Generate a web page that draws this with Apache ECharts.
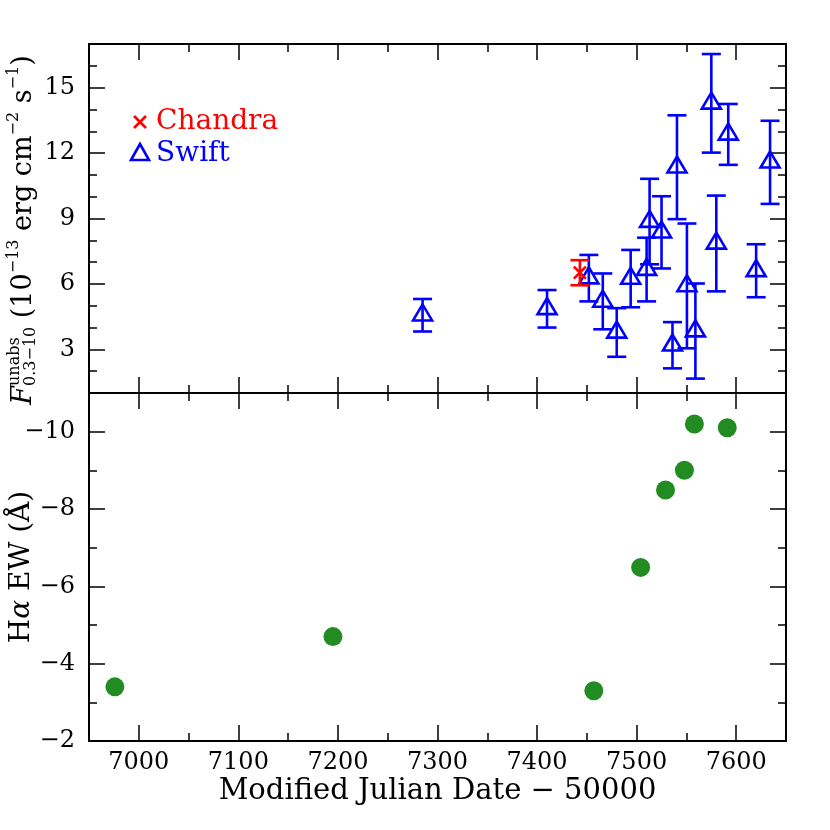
<!DOCTYPE html>
<html>
<head>
<meta charset="utf-8">
<script src="https://cdn.jsdelivr.net/npm/echarts@6/dist/echarts.min.js"></script>
<style>
  html, body { margin: 0; padding: 0; background: #fff; }
  #chart { width: 830px; height: 830px; }
</style>
</head>
<body>
<div id="chart"></div>
<script>
// Swift points: MJD-50000, unabsorbed flux (1e-13 cgs), error bar low/high
const swiftMjd  = [7285, 7410, 7452, 7466, 7480, 7494, 7510, 7513, 7525, 7536, 7540.5, 7550.5, 7559, 7575, 7580, 7592, 7620, 7634];
const swiftFlux = [4.57, 4.86, 6.27, 5.20, 3.78, 6.25, 6.66, 8.86, 8.37, 3.19, 11.35, 5.91, 3.84, 14.28, 7.86, 12.86, 6.60, 11.58];
const swiftLo   = [3.82, 4.00, 5.20, 3.92, 2.66, 4.93, 5.20, 6.90, 6.71, 2.13, 8.97, 3.05, 1.66, 12.02, 5.66, 11.46, 5.39, 9.67];
const swiftHi   = [5.31, 5.72, 7.33, 6.48, 4.89, 7.56, 8.12, 10.82, 10.02, 4.25, 13.73, 8.77, 6.02, 16.54, 10.05, 14.25, 7.82, 13.48];

// Chandra point
const chandraMjd  = [7443];
const chandraFlux = [6.52];
const chandraLo   = [5.94];
const chandraHi   = [7.09];

// H-alpha equivalent width
const haMjd = [6976, 7195, 7457, 7504, 7529, 7548, 7558, 7591];
const haEW  = [-3.40, -4.70, -3.30, -6.49, -8.49, -9.00, -10.20, -10.10];

// axis ticks
const xMajor = [7000, 7100, 7200, 7300, 7400, 7500, 7600];
const fluxMajor = [3, 6, 9, 12, 15];
const ewMajor = [-10, -8, -6, -4, -2];

const FONT = 'DejaVu Serif';
const BLUE = '#0000ff', RED = '#ff0000', GREEN = '#228b22';

const chart = echarts.init(document.getElementById('chart'));

const tickStyle = { color: '#000', width: 1.5 };
const labelStyle = { fontFamily: FONT, fontSize: 24, color: '#000' };

function xAxesFor(grid, withLabels) {
  const base = { type: 'value', gridIndex: grid, min: 6950, max: 7650, interval: 50,
    axisLine: { show: false }, splitLine: { show: false } };
  const list = [];
  ['bottom', 'top'].forEach(pos => {
    list.push(Object.assign({}, base, { position: pos,
      axisTick: { show: true, inside: true, length: 16, lineStyle: tickStyle, customValues: xMajor },
      axisLabel: Object.assign({ show: withLabels && pos === 'bottom', customValues: xMajor, margin: 10,
        formatter: v => String(v) }, labelStyle)
    }));
    list.push(Object.assign({}, base, { position: pos,
      axisTick: { show: true, inside: true, length: 8, lineStyle: tickStyle },
      axisLabel: { show: false }
    }));
  });
  return list;
}

function yAxesFor(grid, min, max, major, inverse, fmt) {
  const base = { type: 'value', gridIndex: grid, min: min, max: max, interval: 1, inverse: inverse,
    axisLine: { show: false }, splitLine: { show: false } };
  const list = [];
  ['left', 'right'].forEach(pos => {
    list.push(Object.assign({}, base, { position: pos,
      axisTick: { show: true, inside: true, length: 16, lineStyle: tickStyle, customValues: major },
      axisLabel: Object.assign({ show: pos === 'left', customValues: major, margin: 14, formatter: fmt }, labelStyle)
    }));
    list.push(Object.assign({}, base, { position: pos,
      axisTick: { show: true, inside: true, length: 8, lineStyle: tickStyle },
      axisLabel: { show: false }
    }));
  });
  return list;
}

const xAxes = xAxesFor(0, false).concat(xAxesFor(1, true));
// axis 4 = bottom panel, bottom side, major ticks
xAxes[4].name = 'Modified Julian Date \u2212 50000';
xAxes[4].nameLocation = 'middle';
xAxes[4].nameGap = 36;
xAxes[4].nameTextStyle = { fontFamily: FONT, fontSize: 29, color: '#000' };

const yAxes = yAxesFor(0, 1, 17, fluxMajor, false, v => String(v))
  .concat(yAxesFor(1, -11, -2, ewMajor, true, v => '\u2212' + Math.abs(v)));

function errData(x, y, lo, hi) {
  return x.map((v, i) => [v, y[i], lo[i], hi[i]]);
}

function errorBarItem(kind, color) {
  return function (params, api) {
    const x = api.value(0);
    const c = api.coord([x, api.value(1)]);
    const lo = api.coord([x, api.value(2)]);
    const hi = api.coord([x, api.value(3)]);
    const cap = 9.5;
    const st = { stroke: color, lineWidth: 2.6, fill: null };
    const kids = [
      { type: 'line', shape: { x1: c[0], y1: lo[1], x2: c[0], y2: hi[1] }, style: st },
      { type: 'line', shape: { x1: c[0] - cap, y1: lo[1], x2: c[0] + cap, y2: lo[1] }, style: st },
      { type: 'line', shape: { x1: c[0] - cap, y1: hi[1], x2: c[0] + cap, y2: hi[1] }, style: st }
    ];
    if (kind === 'tri') {
      kids.push({ type: 'polygon', shape: { points: [[c[0], c[1] - 10.7], [c[0] - 9.5, c[1] + 5.3], [c[0] + 9.5, c[1] + 5.3]] },
        style: { stroke: color, lineWidth: 2.6, fill: null } });
    } else {
      const h = 6;
      kids.push({ type: 'line', shape: { x1: c[0] - h, y1: c[1] - h, x2: c[0] + h, y2: c[1] + h }, style: st });
      kids.push({ type: 'line', shape: { x1: c[0] - h, y1: c[1] + h, x2: c[0] + h, y2: c[1] - h }, style: st });
    }
    return { type: 'group', children: kids };
  };
}

// rotated axis titles with sub/superscripts
const ctx = document.createElement('canvas').getContext('2d');
function measure(t, font) { ctx.font = font; return ctx.measureText(t).width; }

function rotatedLabel(cx, cy, frags) {
  let total = 0;
  frags.forEach(f => {
    const ws = f.texts.map(t => measure(t, (f.italic ? 'italic ' : '') + f.size + 'px "' + FONT + '"'));
    f.w = Math.max.apply(null, ws);
    total += f.w;
  });
  const kids = [];
  let x = -total / 2;
  frags.forEach(f => {
    f.texts.forEach((t, k) => {
      kids.push({ type: 'text', x: x, y: f.dy[k], style: {
        text: t, font: (f.italic ? 'italic ' : '') + f.size + 'px "' + FONT + '"',
        fill: '#000', align: 'left', verticalAlign: 'middle' } });
    });
    x += f.w;
  });
  return { type: 'group', x: cx, y: cy, rotation: Math.PI / 2, children: kids };
}

const fluxTitle = rotatedLabel(24, 230, [
  { texts: ['F'], size: 27, italic: true, dy: [0] },
  { texts: ['unabs', '0.3\u221210'], size: 16, dy: [-9, 7] },
  { texts: [' (10'], size: 27, dy: [0] },
  { texts: ['\u221213'], size: 16, dy: [-10] },
  { texts: [' erg cm'], size: 27, dy: [0] },
  { texts: ['\u22122'], size: 16, dy: [-10] },
  { texts: [' s'], size: 27, dy: [0] },
  { texts: ['\u22121'], size: 16, dy: [-10] },
  { texts: [')'], size: 27, dy: [0] }
]);

const ewTitle = rotatedLabel(22, 567, [
  { texts: ['H'], size: 28, dy: [0] },
  { texts: ['\u03b1'], size: 28, italic: true, dy: [0] },
  { texts: [' EW (\u00c5)'], size: 28, dy: [0] }
]);

const legendStyle = { stroke: RED, lineWidth: 2.6 };
const legend = [
  { type: 'line', shape: { x1: 134, y1: 116, x2: 146, y2: 128 }, style: legendStyle },
  { type: 'line', shape: { x1: 134, y1: 128, x2: 146, y2: 116 }, style: legendStyle },
  { type: 'text', x: 156, y: 122, style: { text: 'Chandra', font: '28px "' + FONT + '"', fill: RED, verticalAlign: 'middle' } },
  { type: 'polygon', shape: { points: [[140, 144], [131, 160], [149, 160]] }, style: { stroke: BLUE, lineWidth: 2.6, fill: null } },
  { type: 'text', x: 156, y: 154, style: { text: 'Swift', font: '28px "' + FONT + '"', fill: BLUE, verticalAlign: 'middle' } }
];

chart.setOption({
  animation: false,
  backgroundColor: '#fff',
  grid: [
    { left: 89, top: 44, width: 697, height: 349, show: true, borderColor: '#000', borderWidth: 2, backgroundColor: 'transparent' },
    { left: 89, top: 393, width: 697, height: 348, show: true, borderColor: '#000', borderWidth: 2, backgroundColor: 'transparent' }
  ],
  xAxis: xAxes,
  yAxis: yAxes,
  graphic: [fluxTitle, ewTitle].concat(legend),
  series: [
    {
      name: 'Swift', type: 'custom', xAxisIndex: 0, yAxisIndex: 0,
      renderItem: errorBarItem('tri', BLUE), data: errData(swiftMjd, swiftFlux, swiftLo, swiftHi)
    },
    {
      name: 'Chandra', type: 'custom', xAxisIndex: 0, yAxisIndex: 0,
      renderItem: errorBarItem('x', RED), data: errData(chandraMjd, chandraFlux, chandraLo, chandraHi)
    },
    {
      name: 'H-alpha EW', type: 'scatter', xAxisIndex: 4, yAxisIndex: 4,
      symbol: 'circle', symbolSize: 19, itemStyle: { color: GREEN, opacity: 1 },
      data: haMjd.map((v, i) => [v, haEW[i]])
    }
  ]
});
</script>
</body>
</html>
